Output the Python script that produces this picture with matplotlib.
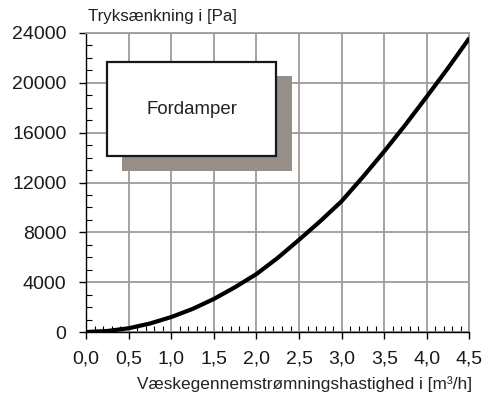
import matplotlib
matplotlib.use("Agg")
import matplotlib.pyplot as plt
from matplotlib.ticker import MultipleLocator, FuncFormatter
from matplotlib.patches import Rectangle

plt.rcParams['font.family'] = ['Liberation Sans', 'DejaVu Sans']

# Flow rate [m³/h] and pressure drop [Pa] for the evaporator
flow = [0.0, 0.25, 0.5, 0.75, 1.0, 1.25, 1.5, 1.75, 2.0, 2.25,
        2.5, 2.75, 3.0, 3.25, 3.5, 3.75, 4.0, 4.25, 4.5]
pressure_drop = [0, 80, 300, 680, 1200, 1850, 2650, 3600, 4650, 5950,
                 7400, 8900, 10500, 12450, 14500, 16650, 18900, 21200, 23600]

x_ticks = [0.0, 0.5, 1.0, 1.5, 2.0, 2.5, 3.0, 3.5, 4.0, 4.5]
y_ticks = [0, 4000, 8000, 12000, 16000, 20000, 24000]

component = "Fordamper"
y_title = "Tryksænkning i [Pa]"
x_title = "Væskegennemstrømningshastighed i [m³/h]"

grid_col = "#a09b95"
shadow_col = "#958f87"

fig = plt.figure(figsize=(4.88, 3.99), dpi=100)
ax = fig.add_axes([0.1762, 0.1679, 0.7858, 0.7494])

ax.set_xlim(x_ticks[0], x_ticks[-1])
ax.set_ylim(y_ticks[0], y_ticks[-1])
ax.set_xticks(x_ticks)
ax.set_yticks(y_ticks)
ax.xaxis.set_minor_locator(MultipleLocator(0.1))
ax.yaxis.set_minor_locator(MultipleLocator(1000))
ax.xaxis.set_major_formatter(FuncFormatter(lambda v, p: f"{v:.1f}".replace(".", ",")))
ax.yaxis.set_major_formatter(FuncFormatter(lambda v, p: f"{v:.0f}"))

ax.grid(True, which="major", color=grid_col, lw=1.3)
ax.set_axisbelow(True)

ax.tick_params(which="major", direction="out", length=5, width=1, color="black",
               labelsize=14, labelcolor="#1a1a1a")
ax.tick_params(which="minor", direction="in", length=4, width=0.8, color="black")
ax.tick_params(axis="y", which="major", pad=9)
ax.tick_params(axis="x", which="major", pad=8)

for side in ("top", "right"):
    ax.spines[side].set_color(grid_col)
    ax.spines[side].set_linewidth(1.3)
for side in ("left", "bottom"):
    ax.spines[side].set_color("black")
    ax.spines[side].set_linewidth(1.0)

# Label box with drop shadow
ax.add_patch(Rectangle((0.0947, 0.5395), 0.4417, 0.3165, transform=ax.transAxes,
                       facecolor=shadow_col, edgecolor="none", zorder=3))
ax.add_patch(Rectangle((0.0555, 0.5896), 0.4392, 0.3124, transform=ax.transAxes,
                       facecolor="white", edgecolor="#15191d", lw=1.6, zorder=4))
ax.text(0.2751, 0.7458, component, transform=ax.transAxes, ha="center", va="center",
        fontsize=13.4, color="#222222", zorder=5)

ax.plot(flow, pressure_drop, color="black", lw=3.0, solid_capstyle="butt",
        solid_joinstyle="round", zorder=6)

fig.text(88 / 488, 1 - 16 / 399, y_title, ha="left", va="center", fontsize=12.2,
         color="#222222")
fig.text(472 / 488, 1 - 384 / 399, x_title, ha="right", va="center", fontsize=12.4,
         color="#222222")

fig.savefig("out.png", dpi=100)
